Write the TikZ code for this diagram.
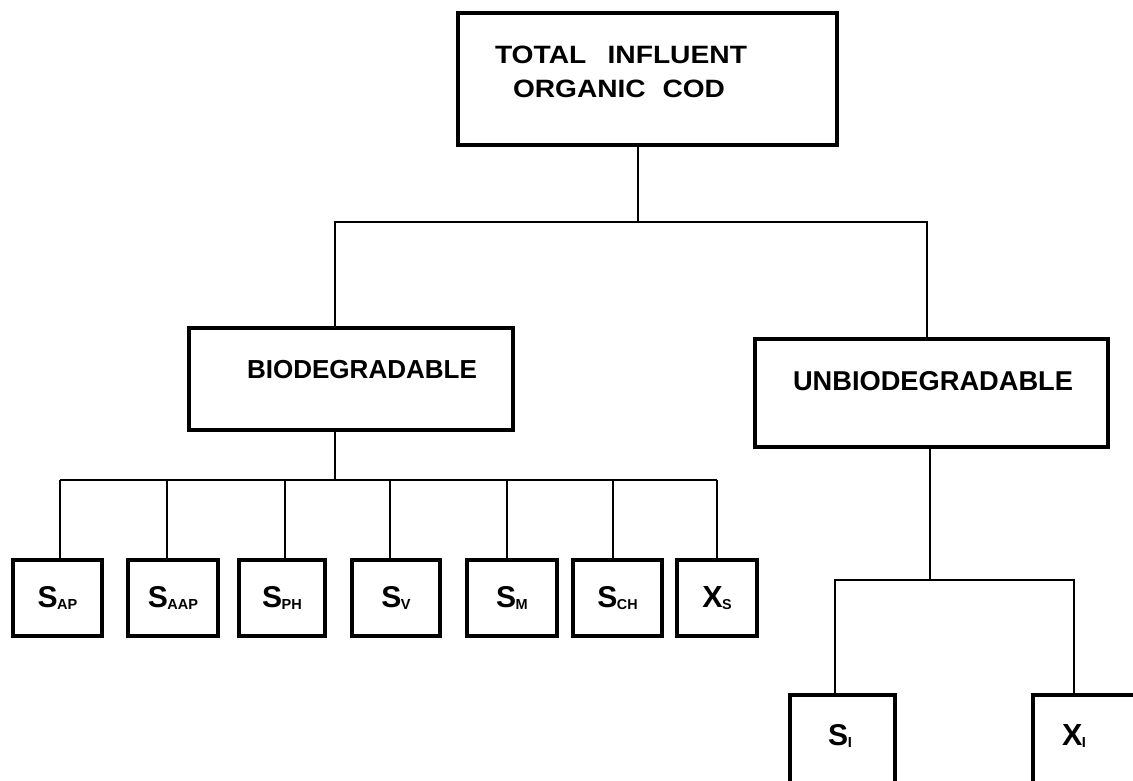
\documentclass[tikz,border=0pt]{standalone}
\usepackage{fontspec}
\setmainfont{Liberation Sans}
\usepackage{graphicx}

% component symbol with a small subscript, e.g. S_AP
\newcommand\cmpsym[2]{%
  \resizebox{!}{21pt}{\bfseries #1}\kern-0.5pt%
  \raisebox{-2pt}{\resizebox{!}{10pt}{\bfseries #2}}}

\begin{document}
\begin{tikzpicture}[x=1pt,y=-1pt,
    box/.style={draw, line width=4.5pt, inner sep=0pt, outer sep=0pt},
    comp/.style={box, minimum width=#1, minimum height=76pt},
    link/.style={line width=2.6pt},
    txt/.style={inner sep=0pt, outer sep=0pt, anchor=base west}]
  \useasboundingbox (0,0) rectangle (1133,780);
  \fill[white] (0,0) rectangle (1133,780);
  \clip (0,0) rectangle (1133,780);

  % ---- top level
  \node[box, minimum width=379pt, minimum height=132pt] (total) at (647.5,79) {};
  \node[txt] (totalA) at (495,63)
    {\resizebox{252pt}{17.5pt}{\bfseries TOTAL\hspace{0.75em}INFLUENT}};
  \node[txt] (totalB) at (513,97)
    {\resizebox{212pt}{17.5pt}{\bfseries ORGANIC\hspace{0.6em}COD}};

  % ---- second level
  \node[box, minimum width=324pt, minimum height=102pt] (bio) at (351,379) {};
  \node[txt] (bioT) at (247,378)
    {\resizebox{230pt}{!}{\bfseries BIODEGRADABLE}};
  \node[box, minimum width=353pt, minimum height=108pt] (unbio) at (931.5,393) {};
  \node[txt] (unbioT) at (793,390)
    {\resizebox{280pt}{!}{\bfseries UNBIODEGRADABLE}};

  % ---- biodegradable fractions
  \node[comp=89pt] (sap)  at (57.5,598) {\cmpsym{S}{AP}};
  \node[comp=90pt] (saap) at (173,598)  {\cmpsym{S}{AAP}};
  \node[comp=86pt] (sph)  at (282,598)  {\cmpsym{S}{PH}};
  \node[comp=88pt] (sv)   at (396,598)  {\cmpsym{S}{V}};
  \node[comp=90pt] (sm)   at (512,598)  {\cmpsym{S}{M}};
  \node[comp=89pt] (sch)  at (617.5,598){\cmpsym{S}{CH}};
  \node[comp=80pt] (xs)   at (717,598)  {\cmpsym{X}{S}};

  % ---- unbiodegradable fractions (run off the page edge)
  \node[box, minimum width=105pt, minimum height=110pt] (si) at (842.5,750) {};
  \node (siT) at (840,736) {\cmpsym{S}{I}};
  \node[box, minimum width=120pt, minimum height=110pt] (xi) at (1093,750) {};
  \node (xiT) at (1074,736) {\cmpsym{X}{I}};

  % ---- connectors: top split
  \coordinate (tj) at (638,222);
  \coordinate (bj) at (335,222);
  \coordinate (uj) at (927,222);
  \draw[link] (total.south -| tj) -- (tj);
  \draw[link] (bio.north -| bj) |- (uj) -- (unbio.north -| uj);

  % ---- connectors: biodegradable bus
  \coordinate (bk) at (335,480);
  \draw[link] (bio.south -| bk) -- (bk);
  \coordinate (k1) at (60,480);
  \coordinate (k2) at (167,480);
  \coordinate (k3) at (285,480);
  \coordinate (k4) at (390,480);
  \coordinate (k5) at (507,480);
  \coordinate (k6) at (613,480);
  \coordinate (k7) at (717,480);
  \draw[link] (k1) -- (k7);
  \foreach \c/\n in {k1/sap, k2/saap, k3/sph, k4/sv, k5/sm, k6/sch, k7/xs}
    \draw[link] (\c) -- (\n.north -| \c);

  % ---- connectors: unbiodegradable split
  \coordinate (uk) at (930,580);
  \coordinate (m1) at (835,580);
  \coordinate (m2) at (1074,580);
  \draw[link] (unbio.south -| uk) -- (uk);
  \draw[link] (si.north -| m1) |- (m2) -- (xi.north -| m2);
\end{tikzpicture}
\end{document}
